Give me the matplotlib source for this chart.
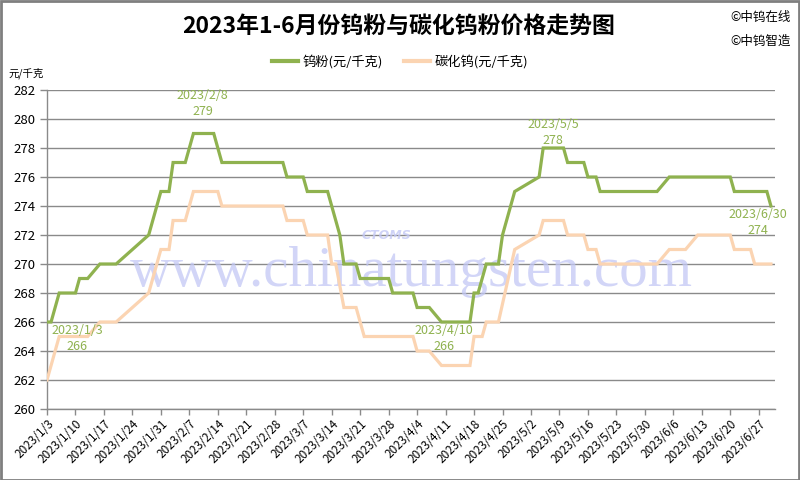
import matplotlib
matplotlib.use("Agg")
import matplotlib.pyplot as plt
from matplotlib.patches import Rectangle
from matplotlib.lines import Line2D
import pandas as pd

plt.rcParams['font.family'] = ['Noto Sans CJK SC', 'DejaVu Sans']

# ---------------- data (vertices) ----------------
w_dates = ["2023-01-03", "2023-01-04", "2023-01-06", "2023-01-10", "2023-01-11", "2023-01-13",
           "2023-01-16", "2023-01-20", "2023-01-28", "2023-01-31", "2023-02-02", "2023-02-03",
           "2023-02-06", "2023-02-08", "2023-02-13", "2023-02-15", "2023-03-02", "2023-03-03",
           "2023-03-07", "2023-03-08", "2023-03-13", "2023-03-16", "2023-03-17", "2023-03-20",
           "2023-03-21", "2023-03-28", "2023-03-29", "2023-04-03", "2023-04-04", "2023-04-07",
           "2023-04-10", "2023-04-17", "2023-04-18", "2023-04-19", "2023-04-21", "2023-04-24",
           "2023-04-25", "2023-04-28", "2023-05-04", "2023-05-05", "2023-05-10", "2023-05-11",
           "2023-05-15", "2023-05-16", "2023-05-18", "2023-05-19", "2023-06-02", "2023-06-05",
           "2023-06-20", "2023-06-21", "2023-06-29", "2023-06-30"]
w_values = [266, 266, 268, 268, 269, 269,
            270, 270, 272, 275, 275, 277,
            277, 279, 279, 277, 277, 276,
            276, 275, 275, 272, 270, 270,
            269, 269, 268, 268, 267, 267,
            266, 266, 268, 268, 270, 270,
            272, 275, 276, 278, 278, 277,
            277, 276, 276, 275, 275, 276,
            276, 275, 275, 274]

wc_dates = ["2023-01-03", "2023-01-06", "2023-01-13", "2023-01-16", "2023-01-20", "2023-01-28",
            "2023-01-31", "2023-02-02", "2023-02-03", "2023-02-06", "2023-02-08", "2023-02-14",
            "2023-02-15", "2023-03-02", "2023-03-03", "2023-03-07", "2023-03-08", "2023-03-13",
            "2023-03-14", "2023-03-15", "2023-03-17", "2023-03-20", "2023-03-22", "2023-04-03",
            "2023-04-04", "2023-04-07", "2023-04-10", "2023-04-17", "2023-04-18", "2023-04-20",
            "2023-04-21", "2023-04-24", "2023-04-28", "2023-05-04", "2023-05-05", "2023-05-10",
            "2023-05-11", "2023-05-15", "2023-05-16", "2023-05-18", "2023-05-19", "2023-06-02",
            "2023-06-05", "2023-06-09", "2023-06-12", "2023-06-20", "2023-06-21", "2023-06-25",
            "2023-06-26", "2023-06-30"]
wc_values = [262, 265, 265, 266, 266, 268,
             271, 271, 273, 273, 275, 275,
             274, 274, 273, 273, 272, 272,
             270, 270, 267, 267, 265, 265,
             264, 264, 263, 263, 265, 265,
             266, 266, 271, 272, 273, 273,
             272, 272, 271, 271, 270, 270,
             271, 271, 272, 272, 271, 271,
             270, 270]

series_names = ["钨粉(元/千克)", "碳化钨(元/千克)"]
title = "2023年1-6月份钨粉与碳化钨粉价格走势图"
y_ticks = [260, 262, 264, 266, 268, 270, 272, 274, 276, 278, 280, 282]
x_tick_dates = ["2023-01-03", "2023-01-10", "2023-01-17", "2023-01-24", "2023-01-31",
                "2023-02-07", "2023-02-14", "2023-02-21", "2023-02-28", "2023-03-07",
                "2023-03-14", "2023-03-21", "2023-03-28", "2023-04-04", "2023-04-11",
                "2023-04-18", "2023-04-25", "2023-05-02", "2023-05-09", "2023-05-16",
                "2023-05-23", "2023-05-30", "2023-06-06", "2023-06-13", "2023-06-20",
                "2023-06-27"]
# annotated points of the 钨粉 series
ann_dates = ["2023-01-03", "2023-02-08", "2023-04-10", "2023-05-05", "2023-06-30"]
ann_values = [266, 279, 266, 278, 274]

# ---------------- styling ----------------
GREEN = "#8FB24F"
ORANGE = "#FBD4B2"
GRID = "#8A8A8A"

fig = plt.figure(figsize=(8, 4.8), dpi=100)
ax = fig.add_axes([47 / 800, 1 - 409 / 480, (775 - 47) / 800, (409 - 90) / 480])

wd = pd.to_datetime(w_dates)
cd = pd.to_datetime(wc_dates)
ax.plot(cd, wc_values, color=ORANGE, lw=2.3, solid_joinstyle='miter', zorder=3)
ax.plot(wd, w_values, color=GREEN, lw=2.3, solid_joinstyle='miter', zorder=4)

# watermark
ax.text(0.5, 0.43, "www.chinatungsten.com", transform=ax.transAxes, ha='center', va='center',
        fontsize=41, family=['Liberation Serif', 'DejaVu Serif'], color='#C3C8F5', alpha=0.75, zorder=2)
ax.text(0.466, 0.545, "CTOMS", transform=ax.transAxes, ha='center', va='center',
        fontsize=9, fontweight='bold', style='italic', family=['DejaVu Sans'],
        color='#C3C8F5', alpha=0.8, zorder=2)

ax.set_ylim(260, 282)
ax.set_yticks(y_ticks)
ax.set_xlim(pd.Timestamp("2023-01-03"), pd.Timestamp("2023-07-01"))
xt = pd.to_datetime(x_tick_dates)
ax.set_xticks(xt)
ax.set_xticklabels([f"{d.year}/{d.month}/{d.day}" for d in xt], rotation=45,
                   ha='right', rotation_mode='anchor', fontsize=8.5)
ax.tick_params(axis='x', length=4, width=1, color=GRID, pad=2)
ax.tick_params(axis='y', length=5, width=1, color=GRID, labelsize=9.5, pad=3)

ax.grid(axis='y', color=GRID, lw=1)
ax.set_axisbelow(True)
for s in ['top', 'right']:
    ax.spines[s].set_visible(False)
for s in ['left', 'bottom']:
    ax.spines[s].set_color(GRID)
    ax.spines[s].set_linewidth(1)

# annotations
offsets = [((30, -8), (30, -24)), ((9, 38), (9, 22)), ((2, -8), (2, -24)),
           ((10, 23), (10, 7)), ((-13, -8), (-13, -24))]
for d, v, (o1, o2) in zip(pd.to_datetime(ann_dates), ann_values, offsets):
    ax.annotate(f"{d.year}/{d.month}/{d.day}", (d, v), xytext=o1, textcoords='offset pixels',
                ha='center', va='center', fontsize=9, color=GREEN, zorder=5)
    ax.annotate(f"{v}", (d, v), xytext=o2, textcoords='offset pixels',
                ha='center', va='center', fontsize=9, color=GREEN, zorder=5)

# title & texts
fig.text(399 / 800, 1 - 27 / 480, title, ha='center', va='center', fontsize=16.5, fontweight='bold')
fig.text(730 / 800, 1 - 17 / 480, "©中钨在线", ha='left', va='center', fontsize=9)
fig.text(730 / 800, 1 - 41 / 480, "©中钨智造", ha='left', va='center', fontsize=9)
fig.text(8 / 800, 1 - 73 / 480, "元/千克", ha='left', va='center', fontsize=7.5)

handles = [Line2D([], [], color=GREEN, lw=3), Line2D([], [], color=ORANGE, lw=3)]
fig.legend(handles, series_names, loc='center', bbox_to_anchor=(400 / 800, 1 - 62 / 480),
           ncol=2, frameon=False, fontsize=9.5, handlelength=2.0, handletextpad=0.3,
           columnspacing=1.6)

fig.patches.append(Rectangle((0.001, 0.001), 0.998, 0.997, transform=fig.transFigure,
                             fill=False, edgecolor='#7F7F7F', lw=2))

fig.savefig("out.png", dpi=100)
